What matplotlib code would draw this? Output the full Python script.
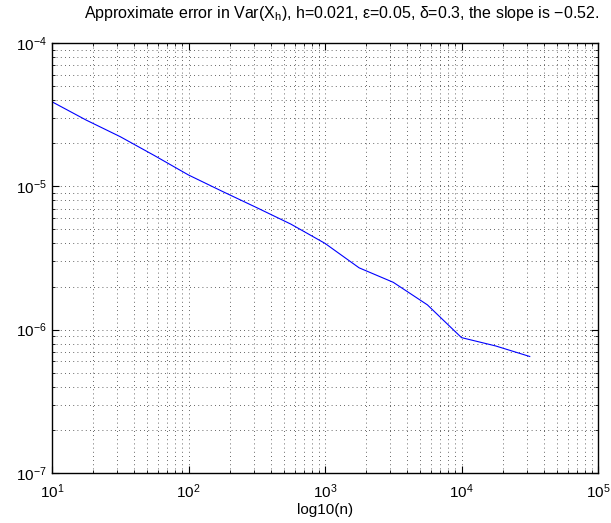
import matplotlib
matplotlib.use("Agg")
import matplotlib.pyplot as plt
import numpy as np

plt.rcParams['font.family'] = ['Liberation Sans', 'DejaVu Sans']
plt.rcParams['mathtext.fontset'] = 'custom'
plt.rcParams['mathtext.rm'] = 'Liberation Sans'
plt.rcParams['mathtext.it'] = 'Liberation Sans'
plt.rcParams['mathtext.sf'] = 'Liberation Sans'

# n = 10^(1:0.25:4.5)
log_n = [1.0, 1.25, 1.5, 1.75, 2.0, 2.25, 2.5, 2.75, 3.0, 3.25, 3.5, 3.75, 4.0, 4.25, 4.5]
err = [3.89e-5, 2.90e-5, 2.22e-5, 1.64e-5, 1.20e-5, 9.2e-6, 7.1e-6, 5.45e-6,
       4.0e-6, 2.70e-6, 2.14e-6, 1.49e-6, 8.8e-7, 7.7e-7, 6.5e-7]

n = 10.0 ** np.array(log_n)

fig = plt.figure(figsize=(6.11, 5.23), dpi=100)
ax = fig.add_axes([52/611, 1 - 473/523, 546/611, 430/523])

ax.loglog(n, err, color=(0, 0, 1), lw=0.8)
ax.set_xlim(1e1, 1e5)
ax.set_ylim(1e-7, 1e-4)

ax.grid(True, which='both', color='k', linestyle=(0, (1, 4)), lw=0.6, alpha=0.8)
ax.tick_params(which='both', direction='in', top=True, right=True, labelsize=11)
ax.tick_params(axis='x', pad=7)
ax.tick_params(which='major', length=5)
ax.tick_params(which='minor', length=2.5)
for s in ax.spines.values():
    s.set_linewidth(1.0)

ax.set_xlabel("log10(n)", fontsize=11, labelpad=1)
ax.set_title("Approximate error in Var(X$_\\mathrm{h}$), h=0.021, \u03b5=0.05, \u03b4=0.3, the slope is \u22120.52.",
             fontsize=11.5, pad=18, x=0.53)

fig.savefig("out.png", dpi=100)
